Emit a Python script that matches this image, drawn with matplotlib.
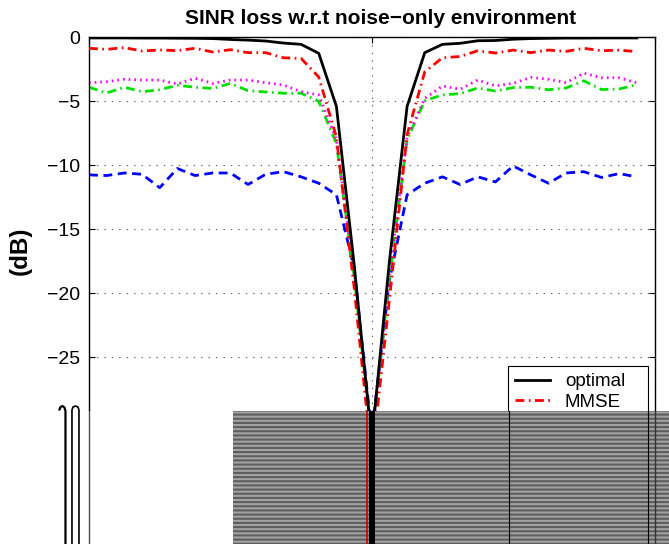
import matplotlib.pyplot as plt
from matplotlib.patches import Rectangle
from matplotlib.lines import Line2D
from matplotlib.transforms import IdentityTransform

plt.rcParams['font.family'] = ['Liberation Sans', 'DejaVu Sans']
plt.rcParams['hatch.linewidth'] = 1.5

# 32 normalised angle bins
u = [-1.0, -0.9375, -0.875, -0.8125, -0.75, -0.6875, -0.625, -0.5625,
     -0.5, -0.4375, -0.375, -0.3125, -0.25, -0.1875, -0.125, -0.0625,
     0.0, 0.0625, 0.125, 0.1875, 0.25, 0.3125, 0.375, 0.4375,
     0.5, 0.5625, 0.625, 0.6875, 0.75, 0.8125, 0.875, 0.9375]

# SINR loss (dB)
optimal = [-0.05, -0.05, -0.05, -0.06, -0.06, -0.07, -0.08, -0.10,
           -0.17, -0.22, -0.29, -0.45, -0.55, -1.25, -5.4, -17.7,
           -31.5, -17.5, -5.4, -1.2, -0.55, -0.47, -0.27, -0.25,
           -0.15, -0.10, -0.08, -0.06, -0.06, -0.05, -0.05, -0.05]
mmse = [-0.86, -0.94, -0.81, -1.07, -0.99, -1.04, -0.86, -1.15,
        -0.97, -1.2, -1.2, -1.6, -1.65, -3.1, -7.8, -19.5,
        -33.0, -20.5, -7.6, -2.7, -1.6, -1.5, -1.05, -1.23,
        -1.0, -1.2, -1.0, -1.1, -0.86, -1.05, -1.0, -1.12]
magenta_s = [-3.55, -3.47, -3.28, -3.34, -3.34, -3.65, -3.2, -3.6,
             -3.34, -3.34, -3.55, -3.73, -4.25, -4.5, -8.0, -18.3,
             -31.5, -18.5, -7.8, -4.77, -3.8, -4.06, -3.34, -3.8,
             -3.6, -3.13, -3.28, -3.55, -2.8, -3.16, -3.16, -3.55]
green_s = [-3.9, -4.35, -3.9, -4.25, -4.1, -3.75, -3.9, -4.0,
           -3.6, -4.17, -4.27, -4.37, -4.37, -5.0, -8.3, -18.6,
           -31.5, -18.8, -8.0, -4.95, -4.5, -4.4, -3.96, -4.2,
           -3.93, -3.9, -4.1, -3.96, -3.4, -4.08, -4.04, -3.7]
blue_s = [-10.75, -10.8, -10.6, -10.7, -11.75, -10.25, -10.8, -10.6,
          -10.6, -11.5, -10.7, -10.5, -10.9, -11.4, -12.3, -18.0,
          -31.0, -19.0, -12.3, -11.4, -10.9, -11.5, -10.9, -11.3,
          -10.05, -10.75, -11.4, -10.6, -10.5, -10.95, -10.65, -10.9]

yticks = [-30, -25, -20, -15, -10, -5, 0]

W, H = 669, 544
fig = plt.figure(figsize=(W / 100, H / 100), dpi=100)
ax = fig.add_axes([89 / W, -5.3 / H, 565.5 / W, 512 / H])

ax.plot(u, blue_s, color='#0000ff', ls=(0, (3.2, 2.0)), lw=2, zorder=2)
ax.plot(u, green_s, color='#00e000', ls=(0, (3.2, 1.6, 0.6, 1.6)), lw=2, zorder=2)
ax.plot(u, magenta_s, color='#ff00ff', ls=(0, (0.6, 1.45)), lw=2, zorder=2)
h_mmse, = ax.plot(u, mmse, color='#ff0000', ls=(0, (3.2, 1.6, 0.6, 1.6)), lw=2, zorder=3)
h_opt, = ax.plot(u, optimal, color='black', lw=2, zorder=4)

ax.set_xlim(-1, 1)
ax.set_ylim(-40, 0)
ax.set_xticks([-1, 0, 1])
ax.set_xticklabels([])
ax.set_yticks(yticks)
ax.set_yticklabels(['\u2212%d' % -t if t else '0' for t in yticks])
ax.tick_params(direction='in', top=True, right=True, length=4, width=0.8,
               labelsize=14, pad=6.5)
ax.grid(True, ls=(0, (1.2, 5.5)), color='0.35', lw=0.8)
for s in ax.spines.values():
    s.set_linewidth(1.0)

ax.set_title('SINR loss w.r.t noise\u2212only environment', fontsize=15,
             fontweight='bold', pad=9.6, x=0.516)
ax.set_ylabel('(dB)', fontsize=17.5, fontweight='bold')
ax.yaxis.set_label_coords(-0.101, 0.583)

leg = ax.legend([h_opt, h_mmse], ['optimal', 'MMSE'], loc='upper left',
                bbox_to_anchor=(508 / W, 1 - 366 / H - 0.2, 140 / W, 0.2),
                bbox_transform=fig.transFigure, mode='expand',
                fancybox=False, edgecolor='black', framealpha=1, fontsize=13.5,
                handlelength=1.87, handletextpad=0.8, borderaxespad=0,
                labelspacing=0.18, borderpad=0.37)
leg.get_frame().set_linewidth(0.8)

# --- smeared lower band of the original image ---
fig.canvas.draw()
renderer = fig.canvas.get_renderer()
cut = H - 411
stripe_x = 233

fig.add_artist(Rectangle((0, 0), stripe_x, cut, transform=IdentityTransform(),
                         facecolor='white', edgecolor='none', zorder=10))
fig.add_artist(Rectangle((stripe_x, 0), W - stripe_x, cut, transform=IdentityTransform(),
                         facecolor='#a2a2a2', edgecolor='#5e5e5e', lw=0,
                         hatch='----', zorder=10))

cut_db = ax.transData.inverted().transform((0, cut))[1]


def crossing(vals, i0, i1):
    x = u[i0] + (cut_db - vals[i0]) / (vals[i1] - vals[i0]) * (u[i1] - u[i0])
    return ax.transData.transform((x, cut_db))[0]


def streak(x, color, lw=1.0):
    fig.add_artist(Line2D([x, x], [0, cut], transform=IdentityTransform(),
                          color=color, lw=lw, zorder=11))


ab = ax.get_window_extent(renderer)
streak(ab.x0, '0.3')
streak(ab.x1, '0.2')
lb = leg.get_window_extent(renderer)
streak(lb.x0 + 0.5, 'black', 0.8)
streak(lb.x1 - 0.5, 'black', 0.8)
streak(crossing(mmse, 15, 16), '#cc0000', 1.2)
bl, br = crossing(optimal, 15, 16), crossing(optimal, 17, 16)
fig.add_artist(Rectangle((bl, 0), br - bl, cut, transform=IdentityTransform(),
                         facecolor='black', edgecolor='none', zorder=11))

# stretched top of the "-30" tick label
for t in ax.yaxis.get_major_ticks():
    if t.get_loc() == -30:
        r = t.label1.get_window_extent(renderer).x1
        top = cut + 5
        fig.add_artist(Line2D([r - 20.5, r - 19.5, r - 17.5, r - 15.5, r - 14.5, r - 14.5],
                              [top - 3.5, top - 1, top, top - 1.5, top - 5, 0],
                              transform=IdentityTransform(), color='black', lw=1.6, zorder=11))
        fig.add_artist(Line2D([r - 8, r - 8, r - 7, r - 4.5, r - 2, r - 1, r - 1],
                              [0, top - 4, top - 1, top, top - 1, top - 4, 0],
                              transform=IdentityTransform(), color='black', lw=1.2, zorder=11))

fig.savefig('out.png', dpi=100)
